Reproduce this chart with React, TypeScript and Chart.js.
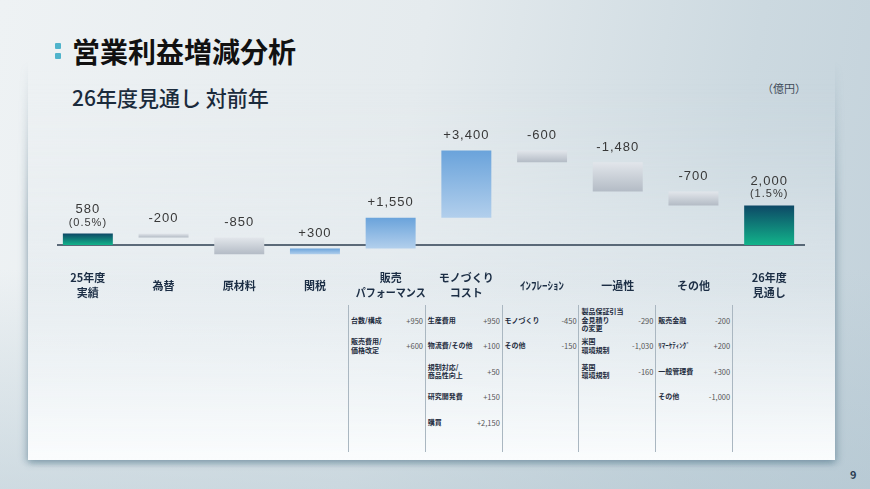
import { useEffect, useRef } from "react";
import { Chart, registerables } from "chart.js";

Chart.register(...registerables);

// 営業利益 増減 (億円)
const categories = [
  ["25年度", "実績"],
  ["為替"],
  ["原材料"],
  ["関税"],
  ["販売", "パフォーマンス"],
  ["モノづくり", "コスト"],
  ["ｲﾝﾌﾚｰｼｮﾝ"],
  ["一過性"],
  ["その他"],
  ["26年度", "見通し"],
];
const amounts = [580, -200, -850, 300, 1550, 3400, -600, -1480, -700, 2000];
const isTotal = [true, false, false, false, false, false, false, false, false, true];
const valueLabels = ["580", "-200", "-850", "+300", "+1,550", "+3,400", "-600", "-1,480", "-700", "2,000"];
const ratioLabels = ["(0.5%)", "", "", "", "", "", "", "", "", "(1.5%)"];

// 内訳 (販売パフォーマンス〜その他)
const breakdownLabels = [
  ["台数/構成", "販売費用/\n価格改定"],
  ["生産費用", "物流費/その他", "規制対応/\n商品性向上", "研究開発費", "購買"],
  ["モノづくり", "その他"],
  ["製品保証引当\n金見積り\nの変更", "米国\n環境規制", "英国\n環境規制"],
  ["販売金融", "ﾘﾏｰｹﾃｨﾝｸﾞ", "一般管理費", "その他"],
];
const breakdownValues = [
  ["+950", "+600"],
  ["+950", "+100", "+50", "+150", "+2,150"],
  ["-450", "-150"],
  ["-290", "-1,030", "-160"],
  ["-200", "+200", "+300", "-1,000"],
];

// floating bars: [start, end]
let running = 0;
const floating = amounts.map((v, i) => {
  if (isTotal[i]) {
    running = v;
    return [0, v];
  }
  const s = running;
  running += v;
  return [s, running];
});

const JP = '"Noto Sans CJK JP", "Noto Sans", sans-serif';

const labelPlugin = {
  id: "waterfallLabels",
  beforeDatasetsDraw(chart: any) {
    const { ctx } = chart;
    const y0 = chart.scales.y.getPixelForValue(0);
    ctx.save();
    ctx.strokeStyle = "#2d3e50";
    ctx.lineWidth = 1.5;
    ctx.beginPath();
    ctx.moveTo(57, y0);
    ctx.lineTo(805, y0);
    ctx.stroke();
    ctx.restore();
  },
  afterDatasetsDraw(chart: any) {
    const { ctx } = chart;
    const xs = chart.scales.x;
    const ys = chart.scales.y;
    ctx.save();
    ctx.textAlign = "center";
    ctx.textBaseline = "middle";
    floating.forEach(([a, b], i) => {
      const cx = xs.getPixelForValue(i);
      const top = ys.getPixelForValue(Math.max(a, b));
      ctx.fillStyle = "#383838";
      (ctx as any).letterSpacing = "1px";
      if (ratioLabels[i]) {
        ctx.font = '13px "Liberation Sans", Arial, sans-serif';
        ctx.fillText(valueLabels[i], cx, top - 24);
        ctx.font = '11px "Liberation Sans", Arial, sans-serif';
        ctx.fillText(ratioLabels[i], cx, top - 11);
      } else {
        ctx.font = '13px "Liberation Sans", Arial, sans-serif';
        ctx.fillText(valueLabels[i], cx, top - 15);
      }
      (ctx as any).letterSpacing = "0px";
      // category label
      const lines = categories[i];
      ctx.fillStyle = "#1c2e45";
      ctx.font = `bold 11px ${JP}`;
      const start = 285.5 - ((lines.length - 1) * 15) / 2;
      lines.forEach((t, k) => ctx.fillText(t, cx, start + k * 15, 70));
    });
    ctx.restore();
  },
};

export default function App() {
  const canvasRef = useRef<HTMLCanvasElement | null>(null);
  const chartRef = useRef<Chart | null>(null);

  useEffect(() => {
    document.body.style.margin = "0";
    if (chartRef.current) chartRef.current.destroy();
    const ctx = canvasRef.current?.getContext("2d");
    if (!ctx) return;

    chartRef.current = new Chart(ctx, {
      type: "bar",
      data: {
        labels: categories,
        datasets: [
          {
            data: floating as any,
            borderWidth: 0,
            barPercentage: 0.66,
            categoryPercentage: 1,
            backgroundColor: (c: any) => {
              const chart = c.chart;
              const raw = c.raw as number[] | undefined;
              if (!chart.chartArea || !raw) return "#cfd5dc";
              const ys = chart.scales.y;
              const top = ys.getPixelForValue(Math.max(raw[0], raw[1]));
              const bot = ys.getPixelForValue(Math.min(raw[0], raw[1]));
              const g = chart.ctx.createLinearGradient(0, top, 0, bot + 0.01);
              const i = c.dataIndex;
              if (isTotal[i]) {
                g.addColorStop(0, "#0d4866");
                g.addColorStop(1, "#12b38a");
              } else if (amounts[i] > 0) {
                g.addColorStop(0, "#6aa3db");
                g.addColorStop(1, "#b2cfec");
              } else {
                g.addColorStop(0, "#e2e6eb");
                g.addColorStop(1, "#b3bbc5");
              }
              return g;
            },
          },
        ],
      },
      options: {
        animation: false,
        responsive: false,
        maintainAspectRatio: false,
        layout: { padding: { left: 50, right: 63, top: 100, bottom: 189 } },
        plugins: { legend: { display: false }, tooltip: { enabled: false } },
        scales: {
          x: { display: false },
          y: { display: false, min: -2775, max: 7325 },
        },
      },
      plugins: [labelPlugin],
    });

    return () => {
      if (chartRef.current) {
        chartRef.current.destroy();
        chartRef.current = null;
      }
    };
  }, []);

  const colLeft = (i: number) => 348 + 76.8 * i;
  const rowY = (r: number) => 320 + 25.5 * r;

  return (
    <div
      style={{
        position: "fixed",
        left: 0,
        top: 0,
        width: 870,
        height: 489,
        overflow: "hidden",
        fontFamily: JP,
        background:
          "linear-gradient(180deg, rgba(255,255,255,0) 55%, rgba(170,192,204,0.45) 100%), linear-gradient(100deg, #eef2f4 0%, #e5ebee 45%, #ccd9e0 80%, #c3d2db 100%)",
      }}
    >
      {/* card, faded out towards the top */}
      <div
        style={{
          position: "absolute",
          left: 14,
          top: 60,
          width: 835,
          height: 415,
          WebkitMaskImage: "linear-gradient(180deg, transparent 0%, #000 40%)",
          maskImage: "linear-gradient(180deg, transparent 0%, #000 40%)",
        }}
      >
        <div
          style={{
            position: "absolute",
            left: 14,
            top: 0,
            width: 807,
            height: 400,
            background:
              "linear-gradient(180deg, rgba(232,238,241,0) 0%, rgba(230,236,240,0.6) 55%, rgba(250,252,253,1) 100%)",
            boxShadow:
              "0 4px 6px rgba(80,118,138,0.35), -4px 2px 6px rgba(80,118,138,0.22), 4px 2px 6px rgba(80,118,138,0.22)",
          }}
        />
      </div>
      {/* title */}
      <div style={{ position: "absolute", left: 55, top: 43, width: 6, height: 6, background: "#4fb3cb", borderRadius: 1 }} />
      <div style={{ position: "absolute", left: 55, top: 53, width: 6, height: 6, background: "#4fb3cb", borderRadius: 1 }} />
      <div
        style={{
          position: "absolute",
          left: 72,
          top: 33,
          fontSize: 28,
          fontWeight: 700,
          color: "#111",
          lineHeight: "36px",
          whiteSpace: "nowrap",
        }}
      >
        営業利益増減分析
      </div>
      <div
        style={{
          position: "absolute",
          left: 72,
          top: 83,
          fontSize: 21,
          fontWeight: 500,
          color: "#1b2b3c",
          lineHeight: "28px",
          whiteSpace: "nowrap",
        }}
      >
        26年度見通し 対前年
      </div>
      <div
        style={{
          position: "absolute",
          left: 762,
          top: 80,
          fontSize: 11,
          color: "#3f4b58",
          lineHeight: "16px",
          whiteSpace: "nowrap",
        }}
      >
        （億円）
      </div>
      <div
        style={{
          position: "absolute",
          left: 850,
          top: 467,
          fontSize: 11,
          fontWeight: 700,
          color: "#2a3b52",
          lineHeight: "14px",
        }}
      >
        9
      </div>

      {/* breakdown table */}
      {[0, 1, 2, 3, 4, 5].map((i) => (
        <div
          key={"l" + i}
          style={{ position: "absolute", left: colLeft(i), top: 305, width: 1, height: 147, background: "#aab7c1" }}
        />
      ))}
      {breakdownLabels.map((col, ci) =>
        col.map((label, ri) => (
          <div
            key={ci + "-" + ri}
            style={{
              position: "absolute",
              left: colLeft(ci) + 3,
              width: 72,
              top: rowY(ri) - 15,
              height: 30,
              display: "flex",
              alignItems: "center",
              justifyContent: "space-between",
            }}
          >
            <div
              style={{
                fontSize: 7,
                fontWeight: 700,
                color: "#1e2c3e",
                lineHeight: "8.5px",
                whiteSpace: "pre",
              }}
            >
              {label}
            </div>
            <div style={{ fontSize: 7.5, color: "#555", lineHeight: "9px", whiteSpace: "nowrap" }}>
              {breakdownValues[ci][ri]}
            </div>
          </div>
        ))
      )}

      <canvas
        ref={canvasRef}
        width={870}
        height={489}
        style={{ position: "absolute", left: 0, top: 0, width: 870, height: 489 }}
      />
    </div>
  );
}
